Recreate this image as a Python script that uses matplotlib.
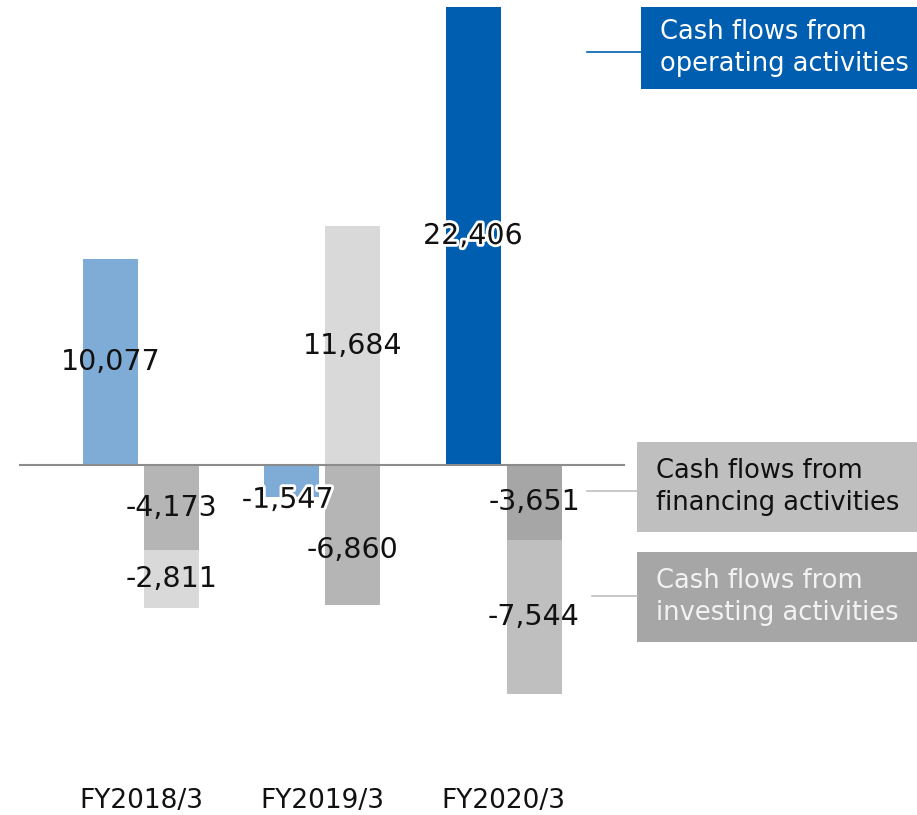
import matplotlib
matplotlib.use("Agg")
import matplotlib.pyplot as plt
import matplotlib.patheffects as pe
from matplotlib.patches import Rectangle
import numpy as np

# ---- data ----
categories = ["FY2018/3", "FY2019/3", "FY2020/3"]
operating = [10077, -1547, 22406]
financing = [-4173, -6860, -3651]
investing = [-2811, 11684, -7544]
legend_labels = ["Cash flows from\noperating activities",
                 "Cash flows from\nfinancing activities",
                 "Cash flows from\ninvesting activities"]

# ---- style ----
op_colors = ["#7FACD6", "#7FACD6", "#005EB0"]
fin_colors = ["#B5B5B5", "#B5B5B5", "#A6A6A6"]
inv_colors = ["#D9D9D9", "#D9D9D9", "#BFBFBF"]
plt.rcParams["font.family"] = ["DejaVu Sans"]

W, H = 917, 815
fig = plt.figure(figsize=(W / 100, H / 100), dpi=100)
ax = fig.add_axes([0, 0, 1, 1])
px_per_cat = 181.25
units_per_px = 48.92
ax.set_xlim(-141 / px_per_cat, (W - 141) / px_per_cat)
ax.set_ylim(-(H - 465) * units_per_px, 465 * units_per_px)
ax.axis("off")

x = np.arange(len(categories))
bw = 55 / px_per_cat
off = 30.5 / px_per_cat

op_bars = ax.bar(x - off, operating, bw, color=op_colors, zorder=2)
fin_bars = ax.bar(x + off, financing, bw, color=fin_colors, zorder=2)
inv_bottom = [f if np.sign(f) == np.sign(v) else 0 for f, v in zip(financing, investing)]
inv_bars = ax.bar(x + off, investing, bw, bottom=inv_bottom, color=inv_colors, zorder=2)

ax.axhline(0, xmin=20 / W, xmax=624 / W, color="#8C8C8C", lw=1.5, zorder=3)

def label(bar, val, dx=0, dy=0, glow=False):
    cx = bar.get_x() + bar.get_width() / 2
    cy = bar.get_y() + bar.get_height() / 2
    t = ax.annotate(f"{val:,}", (cx, cy), xytext=(dx, dy), textcoords="offset pixels",
                    ha="center", va="center", fontsize=20.5, color="#111111", zorder=5)
    if glow:
        t.set_path_effects([pe.withStroke(linewidth=4, foreground="white")])

label_offsets = {("op", 1): (-4, -19)}
for i in range(3):
    dx, dy = label_offsets.get(("op", i), (0, 0))
    label(op_bars[i], operating[i], dx, dy, glow=(i > 0))
    label(fin_bars[i], financing[i], 0, -15 if i == 1 else 0)
    label(inv_bars[i], investing[i])

for i, c in enumerate(categories):
    ax.text(x[i], 14 / H, c, transform=ax.get_xaxis_transform(), ha="center",
            va="center", fontsize=19, color="#111111")

# ---- legend boxes ----
def box(x0, y0, x1, y1, fc, text, tc, line_y, line_x0, line_c):
    fig.patches.append(Rectangle((x0 / W, 1 - y1 / H), (x1 - x0) / W, (y1 - y0) / H,
                                 transform=fig.transFigure, facecolor=fc, edgecolor="none", zorder=1))
    fig.text((x0 + 19) / W, 1 - (y0 + y1) / 2 / H, text, ha="left", va="center",
             fontsize=18.5, color=tc, linespacing=1.3)
    fig.lines.append(plt.Line2D([line_x0 / W, x0 / W], [1 - line_y / H] * 2,
                                transform=fig.transFigure, color=line_c, lw=1.2))

box(641, 7, 917, 89, "#005EB0", legend_labels[0], "white", 52, 587, "#005EB0")
box(637, 442, 917, 532, "#BFBFBF", legend_labels[1], "#111111", 491, 587, "#BFBFBF")
box(637, 552, 917, 642, "#A6A6A6", legend_labels[2], "#F2F2F2", 596, 592, "#BFBFBF")

fig.savefig("out.png", dpi=100)
